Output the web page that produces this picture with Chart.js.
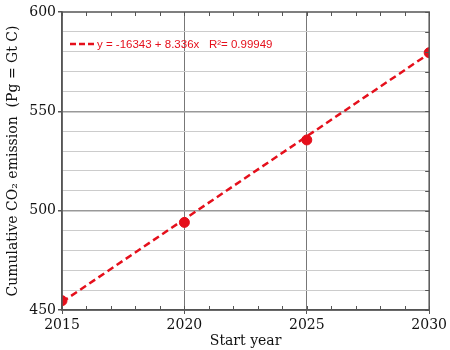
<!DOCTYPE html>
<html>
<head>
<meta charset="utf-8">
<script src="https://cdn.jsdelivr.net/npm/chart.js@4/dist/chart.umd.min.js"></script>
<style>
  html, body { margin: 0; padding: 0; background: #fff; }
  #wrap { width: 450px; height: 350px; }
</style>
</head>
<body>
<div id="wrap"><canvas id="chart"></canvas></div>
<script>
// values
const years = [2015, 2020, 2025, 2030];
const emissions = [454.7, 494.1, 535.6, 579.5];
const fitYears = [2015, 2030];
const fitValues = [454.0, 579.1];
const fitLabel = 'y = -16343 + 8.336x   R\u00b2= 0.99949';
const xTicks = [2015, 2020, 2025, 2030];
const yTicks = [450, 500, 550, 600];

const red = '#e5101c';
const serif = '"DejaVu Serif", "Liberation Serif", serif';

// frame, inner minor ticks and the in-plot legend
const decor = {
  id: 'decor',
  afterDraw(chart) {
    const { ctx, chartArea: a, scales: { x, y } } = chart;
    ctx.save();
    ctx.strokeStyle = '#555';
    ctx.lineWidth = 1;
    ctx.beginPath();
    for (let v = 2015; v <= 2030; v++) {
      const px = Math.round(x.getPixelForValue(v)) + 0.5;
      ctx.moveTo(px, a.top); ctx.lineTo(px, a.top + 4);
      ctx.moveTo(px, a.bottom); ctx.lineTo(px, a.bottom - 4);
    }
    for (let v = 450; v <= 600; v += 10) {
      const py = Math.round(y.getPixelForValue(v)) + 0.5;
      ctx.moveTo(a.right, py); ctx.lineTo(a.right - 4, py);
    }
    ctx.stroke();
    ctx.lineWidth = 1.5;
    ctx.strokeRect(a.left, a.top, a.right - a.left, a.bottom - a.top);

    // legend
    const lx = a.left + 8, ly = a.top + 32;
    ctx.strokeStyle = red;
    ctx.lineWidth = 2.5;
    ctx.setLineDash([6, 3]);
    ctx.beginPath();
    ctx.moveTo(lx, ly); ctx.lineTo(lx + 27, ly);
    ctx.stroke();
    ctx.setLineDash([]);
    ctx.fillStyle = red;
    ctx.font = '11.5px "Liberation Sans", Arial, sans-serif';
    ctx.textBaseline = 'middle';
    ctx.fillText(fitLabel, lx + 27, ly + 1);
    ctx.restore();
  }
};

new Chart(document.getElementById('chart'), {
  type: 'scatter',
  data: {
    datasets: [
      {
        label: 'fit',
        data: fitYears.map((yr, i) => ({ x: yr, y: fitValues[i] })),
        showLine: true,
        borderColor: red,
        borderWidth: 2.5,
        borderDash: [7, 4],
        pointRadius: 0,
        fill: false
      },
      {
        label: 'data',
        data: years.map((yr, i) => ({ x: yr, y: emissions[i] })),
        backgroundColor: red,
        borderColor: red,
        pointRadius: 5,
        showLine: false
      }
    ]
  },
  options: {
    responsive: true,
    maintainAspectRatio: false,
    animation: false,
    layout: { padding: { top: 12, right: 18, left: 0, bottom: 0 } },
    plugins: { legend: { display: false }, tooltip: { enabled: false } },
    scales: {
      x: {
        type: 'linear',
        min: 2015, max: 2030,
        afterBuildTicks: s => { s.ticks = xTicks.map(v => ({ value: v })); },
        ticks: {
          color: '#111',
          font: { family: serif, size: 14 },
          padding: 3,
          maxRotation: 0,
          callback: v => String(v)
        },
        grid: {
          color: c => (c.tick && c.tick.value > 2015 && c.tick.value < 2030) ? '#777' : 'rgba(0,0,0,0)',
          tickColor: '#555',
          tickLength: 4,
          lineWidth: 1
        },
        border: { color: '#555', width: 1.5 },
        title: {
          display: true,
          text: 'Start year',
          color: '#111',
          font: { family: serif, size: 14 },
          padding: { top: 0, bottom: 0 }
        },
        afterFit: s => { s.height = 40; }
      },
      y: {
        type: 'linear',
        min: 450, max: 600,
        ticks: {
          stepSize: 10,
          autoSkip: false,
          color: '#111',
          font: { family: serif, size: 14 },
          padding: 2,
          callback: v => (yTicks.includes(v) ? String(v) : '')
        },
        grid: {
          color: c => {
            const v = c.tick ? c.tick.value : 0;
            if (v === 450 || v === 600) return 'rgba(0,0,0,0)';
            return v % 50 === 0 ? '#999' : '#ccc';
          },
          tickColor: c => (c.tick && c.tick.value % 50 === 0) ? '#555' : 'rgba(0,0,0,0)',
          tickLength: 4,
          lineWidth: c => (c.tick && c.tick.value % 50 === 0) ? 1.5 : 1
        },
        border: { color: '#555', width: 1.5 },
        title: {
          display: true,
          text: 'Cumulative CO\u2082 emission  (Pg = Gt C)',
          color: '#111',
          font: { family: serif, size: 14 },
          padding: { top: 5, bottom: 0 }
        },
        afterFit: s => { s.width = 62; }
      }
    }
  },
  plugins: [decor]
});
</script>
</body>
</html>
